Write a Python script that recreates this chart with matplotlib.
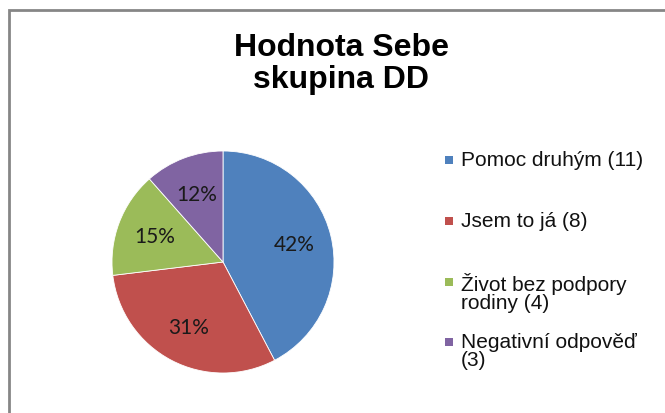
import matplotlib.pyplot as plt
from matplotlib.patches import Rectangle

# Data
labels = ['Pomoc druhým (11)', 'Jsem to já (8)', 'Život bez podpory\nrodiny (4)', 'Negativní odpověď\n(3)']
values = [11, 8, 4, 3]
colors = ['#4F81BD', '#C0504D', '#9BBB59', '#8064A2']
title = 'Hodnota Sebe\nskupina DD'

W, H = 665, 414
fig = plt.figure(figsize=(W / 100, H / 100), dpi=100)

# Excel-like chart border
fig.add_artist(Rectangle((9 / W, -0.1), 1.2, (H - 11) / H + 0.1, transform=fig.transFigure,
                         fill=False, edgecolor='#868686', linewidth=2))

fig.text(341 / W, 1 - 64 / H, title, ha='center', va='center', fontsize=23,
         fontweight='bold', family='Liberation Sans', linespacing=1.05)

# Pie
cx, cy, r = 223, 263, 111
ax = fig.add_axes([(cx - r) / W, (H - cy - r) / H, 2 * r / W, 2 * r / H])
wedges, texts, autotexts = ax.pie(values, colors=colors, startangle=90, counterclock=False,
                                  autopct=lambda p: f'{p:.0f}%', pctdistance=0.66,
                                  wedgeprops=dict(edgecolor='white', linewidth=0.6),
                                  textprops=dict(fontsize=15, family='Lato', color='#1a1a1a'))
ax.set_xlim(-1, 1)
ax.set_ylim(-1, 1)
ax.set_aspect('equal')

# Legend (manual, first line aligned with marker like Excel)
ys = [161, 222, 283, 343]
for lab, col, y in zip(labels, colors, ys):
    fig.add_artist(Rectangle((445 / W, 1 - (y + 4) / H), 8 / W, 8 / H,
                             transform=fig.transFigure, facecolor=col, edgecolor='none'))
    fig.text(461 / W, 1 - (y - 10) / H, lab, ha='left', va='top', fontsize=15,
             family='Liberation Sans', linespacing=0.95, color='#111111')

fig.savefig('out.png', dpi=100)
